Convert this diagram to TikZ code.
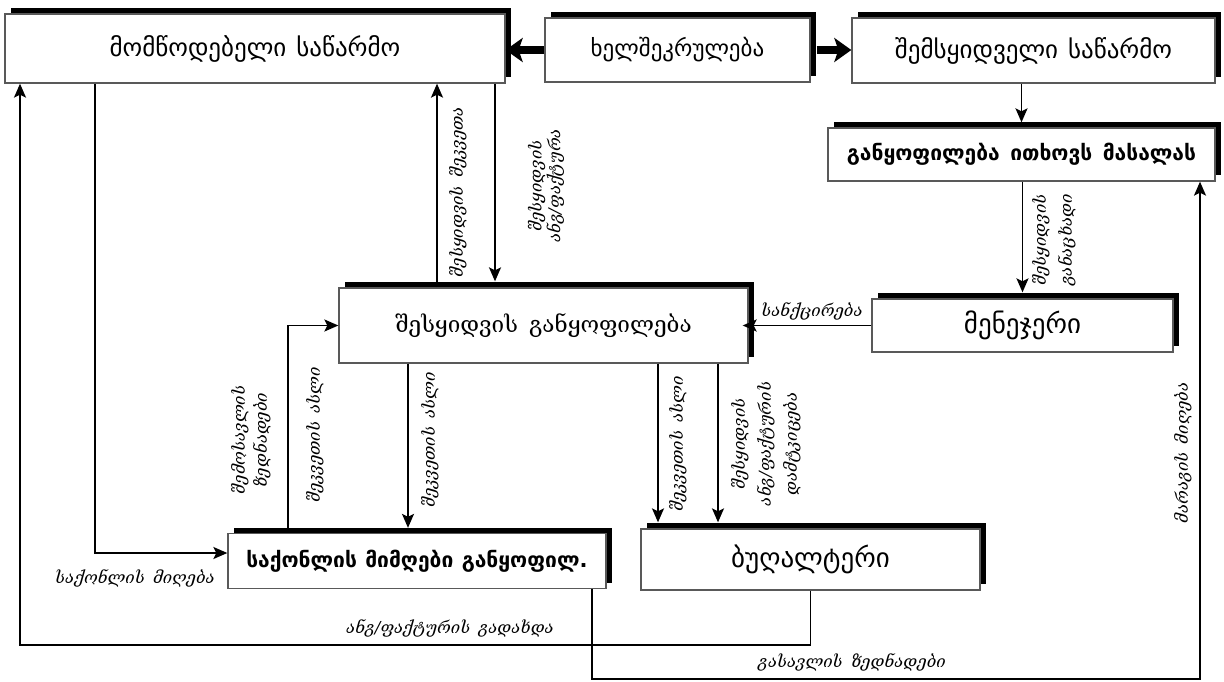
\documentclass[tikz,border=0pt]{standalone}
\usepackage{fontspec}
\setmainfont{DejaVu Sans}
\newfontfamily\geo{DejaVu Sans}
\newfontfamily\geoserif{DejaVu Serif}
\usetikzlibrary{shadows,arrows.meta,calc}
\begin{document}
\begin{tikzpicture}[x=1pt,y=-1pt,
  box/.style={draw=black!65, line width=1.3pt, fill=white, inner sep=0pt,
    drop shadow={shadow xshift=6pt, shadow yshift=6pt, fill=black, opacity=1}},
  btxt/.style={font=\geo\fontsize{25}{28}\selectfont},
  bbig/.style={font=\geo\fontsize{27}{30}\selectfont},
  bbold/.style={font=\geo\bfseries\fontsize{21}{24}\selectfont},
  conn/.style={line width=1.9pt, -{Stealth[length=14pt,width=12pt,inset=3pt]}},
  fat/.style={line width=8pt, -{Stealth[length=17pt,width=24pt,inset=4pt]}},
  lab/.style={font=\geoserif\itshape\fontsize{16.5}{20}\selectfont, inner sep=0pt, align=center},
  vlab/.style={lab, rotate=90}
]
\useasboundingbox (0,0) rectangle (1224,682);
% boxes
\node[box, btxt, minimum width=500pt, minimum height=69pt] (sup) at (255,48.5) {მომწოდებელი\hspace{0.4em}საწარმო};
\node[box, font=\geo\fontsize{23}{26}\selectfont, minimum width=265pt, minimum height=64pt] (con) at (677.5,50) {ხელშეკრულება};
\node[box, btxt, minimum width=363pt, minimum height=65pt] (buy) at (1033.5,50.5) {შემსყიდველი\hspace{0.4em}საწარმო};
\node[box, bbold, minimum width=387pt, minimum height=53pt] (req) at (1021.5,154.5) {განყოფილება\hspace{0.5em}ითხოვს\hspace{0.5em}მასალას};
\node[box, bbig, minimum width=301pt, minimum height=53pt] (mgr) at (1022.5,325.5) {მენეჯერი};
\node[box, font=\geoserif\fontsize{22.5}{26}\selectfont, minimum width=409pt, minimum height=75pt] (pur) at (543.5,325.5) {შესყიდვის\hspace{0.5em}განყოფილება};
\node[box, bbold, minimum width=378pt, minimum height=55pt] (rec) at (417,561) {საქონლის\hspace{0.4em}მიმღები\hspace{0.4em}განყოფილ.};
\node[box, bbig, minimum width=339pt, minimum height=61pt] (acc) at (810.5,559.5) {ბუღალტერი};
% helper coordinates
\coordinate (xa) at (437,0);
\coordinate (xb) at (495,0);
\coordinate (xc) at (288,0);
\coordinate (xd) at (408,0);
\coordinate (xe) at (95,0);
\coordinate (xf) at (592,0);
\coordinate (xg) at (1200,0);
\coordinate (xh) at (20,0);
\coordinate (xi) at (658,0);
\coordinate (xj) at (718,0);
\coordinate (ya) at (0,553);
\coordinate (yb) at (0,679);
\coordinate (yc) at (0,645);
% connectors
\draw[fat] (con.west) -- (con.west -| sup.east);
\draw[fat] ($(con.east)+(6,0)$) -- (con.east -| buy.west);
\draw[conn, shorten >=5pt] (req.north |- buy.south) -- (req.north);
\draw[conn, shorten >=6pt] (mgr.north |- req.south) -- (mgr.north);
\draw[conn, shorten >=-6pt] (mgr.west) -- (mgr.west -| pur.east);
\draw[conn] (xa |- pur.north) -- (xa |- sup.south);
\draw[conn, shorten >=6pt] (xb |- sup.south) -- (xb |- pur.north);
\draw[conn] (xc |- rec.north) -- (xc |- pur.west) -- (pur.west);
\draw[conn, shorten >=5pt] (xd |- pur.south) -- (xd |- rec.north);
\draw[conn, shorten >=6pt] (xi |- pur.south) -- (xi |- acc.north);
\draw[conn, shorten >=6pt] (xj |- pur.south) -- (xj |- acc.north);
\draw[conn] (xe |- sup.south) -- (xe |- ya) -- (rec.west |- ya);
\draw[conn] (xf |- rec.south) -- (xf |- yb) -- (xg |- yb) -- (xg |- req.south);
\draw[conn] (acc.south) -- (acc.south |- yc) -- (xh |- yc) -- (xh |- sup.south);
% labels
\node[vlab] (l1) at (458,192) {შესყიდვის\hspace{0.5em}შეკვეთა};
\node[vlab, font=\geoserif\itshape\fontsize{16.5}{16}\selectfont] (l2) at (546,186) {შესყიდვის\\ანგ/ფაქტურა};
\node[vlab, font=\geoserif\itshape\fontsize{16.5}{26}\selectfont] (l3) at (1054,240) {შესყიდვის\\განაცხადი};
\node[lab] (l4) at (812,311) {სანქცირება};
\node[vlab, font=\geoserif\itshape\fontsize{16.5}{22}\selectfont] (l5) at (251,440) {შემოსავლის\\ზედნადები};
\node[vlab] (l6) at (315,435) {შეკვეთის\hspace{0.5em}ასლი};
\node[vlab] (l7) at (430,440) {შეკვეთის\hspace{0.5em}ასლი};
\node[vlab] (l8) at (678,444) {შეკვეთის\hspace{0.5em}ასლი};
\node[vlab, font=\geoserif\itshape\fontsize{16.5}{26}\selectfont] (l9) at (766,444) {შესყიდვის\\ანგ/ფაქტურის\\დამტკიცება};
\node[vlab] (l10) at (1183,453) {მარაგის\hspace{0.5em}მიღება};
\node[lab] (l11) at (135,578) {საქონლის\hspace{0.5em}მიღება};
\node[lab] (l12) at (450,628) {ანგ/ფაქტურის\hspace{0.5em}გადახდა};
\node[lab] (l13) at (852,662) {გასავლის\hspace{0.5em}ზედნადები};
\end{tikzpicture}
\end{document}
